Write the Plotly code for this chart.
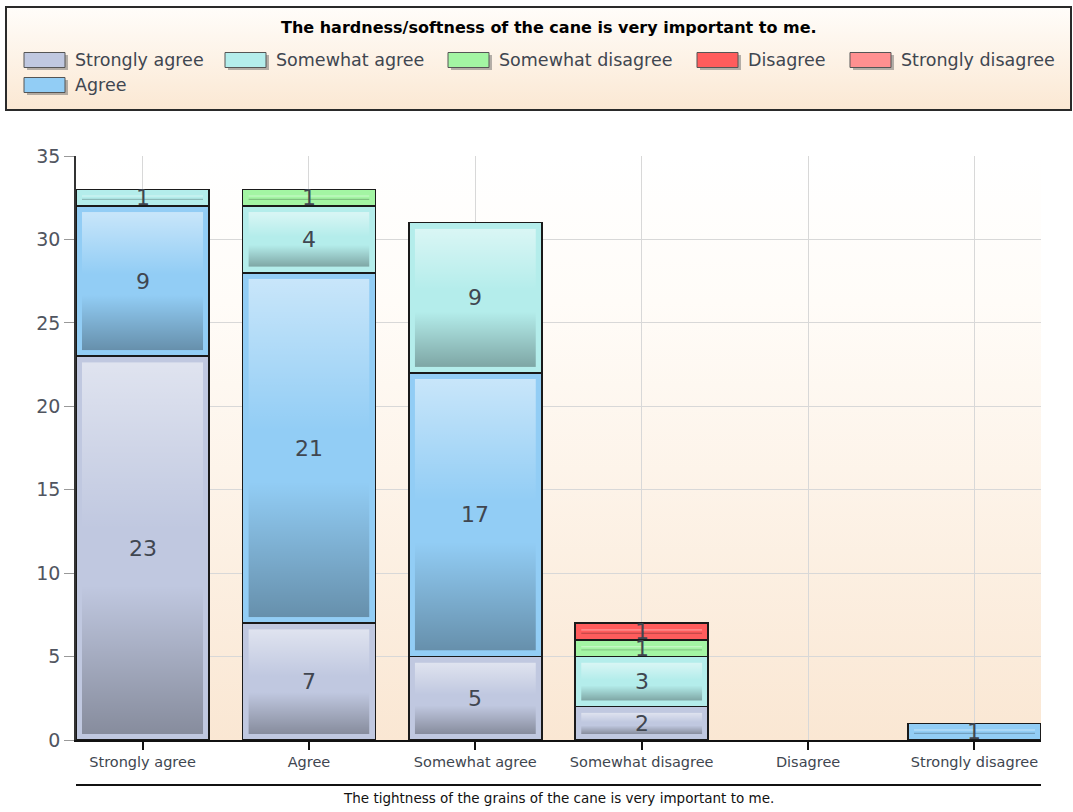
import base64
import plotly.graph_objects as go

# ---------------- data ----------------
categories = ["Strongly agree", "Agree", "Somewhat agree",
              "Somewhat disagree", "Disagree", "Strongly disagree"]
series_names = ["Strongly agree", "Agree", "Somewhat agree",
                "Somewhat disagree", "Disagree", "Strongly disagree"]
strongly_agree = [23, 7, 5, 2, 0, 0]
agree = [9, 21, 17, 0, 0, 1]
somewhat_agree = [1, 4, 9, 3, 0, 0]
somewhat_disagree = [0, 1, 0, 1, 0, 0]
disagree = [0, 0, 0, 1, 0, 0]
strongly_disagree = [0, 0, 0, 0, 0, 0]
series_values = [strongly_agree, agree, somewhat_agree,
                 somewhat_disagree, disagree, strongly_disagree]
series_colors = ["#C0C8E0", "#92CDF5", "#B4EDEB", "#A3F5A3", "#FF5C5C", "#FF9090"]
legend_order = ["Strongly agree", "Somewhat agree", "Somewhat disagree",
                "Disagree", "Strongly disagree", "Agree"]
y_ticks = [0, 5, 10, 15, 20, 25, 30, 35]
legend_title = "The hardness/softness of the cane is very important to me."
x_title = "The tightness of the grains of the cane is very important to me."

# ---------------- layout geometry (pixels) ----------------
W, H = 1073, 812
L, R, T, B = 76, 1041, 156, 740
X_RANGE = [-0.4, 5.4]
Y_RANGE = [0, 35]
BAR_W = 0.8


def px_x(p):
    return (p - L) / (R - L)


def px_y(p):
    return (B - p) / (B - T)


def svg_uri(svg):
    return "data:image/svg+xml;base64," + base64.b64encode(svg.encode()).decode()


def vgrad(stops):
    s = "".join(
        f"<stop offset='{o}' stop-color='{c}' stop-opacity='{a}'/>" for o, c, a in stops)
    return svg_uri(
        "<svg xmlns='http://www.w3.org/2000/svg' width='100' height='100' "
        "viewBox='0 0 100 100' preserveAspectRatio='none'><defs>"
        "<linearGradient id='g' x1='0' y1='0' x2='0' y2='1'>" + s +
        "</linearGradient></defs><rect width='100' height='100' fill='url(#g)'/></svg>")


bg_grad = vgrad([(0, "#FFFFFF", 1), (0.25, "#FFFCF8", 1), (1, "#FAE7D3", 1)])
legend_grad = vgrad([(0, "#FFFDFA", 1), (1, "#FBE8D3", 1)])
bar_grad = vgrad([(0, "#FFFFFF", 0.5), (0.45, "#FFFFFF", 0.0),
                  (0.6, "#000000", 0.0), (1, "#000000", 0.3)])

FONT = "DejaVu Sans"
TXT = "#404650"

fig = go.Figure()

# bars
for name, vals, col in zip(series_names, series_values, series_colors):
    fig.add_trace(go.Bar(
        name=name,
        x=list(range(len(categories))),
        y=[v if v else None for v in vals],
        width=BAR_W,
        marker=dict(color=col, line=dict(color="#1A1A1A", width=1.5)),
        showlegend=False,
        hovertemplate=name + ": %{y}<extra></extra>",
    ))

images = []
annotations = []
shapes = []

# plot background gradient
images.append(dict(source=bg_grad, xref="paper", yref="paper", x=0, y=1,
                   sizex=1, sizey=1, sizing="stretch", xanchor="left",
                   yanchor="top", layer="below"))

# bar gradient overlays and value labels
ux = (R - L) / (X_RANGE[1] - X_RANGE[0])
uy = (B - T) / (Y_RANGE[1] - Y_RANGE[0])
inset = 6
base = [0] * len(categories)
for name, vals in zip(series_names, series_values):
    for j, v in enumerate(vals):
        if not v:
            continue
        y0 = base[j] + inset / uy
        y1 = base[j] + v - inset / uy
        x0 = j - BAR_W / 2 + inset / ux
        x1 = j + BAR_W / 2 - inset / ux
        if y1 > y0:
            images.append(dict(source=bar_grad, xref="x", yref="y", x=x0, y=y1,
                               sizex=x1 - x0, sizey=y1 - y0, sizing="stretch",
                               xanchor="left", yanchor="top", layer="above"))
        annotations.append(dict(x=j, y=base[j] + v / 2, xref="x", yref="y",
                                text=str(v), showarrow=False,
                                font=dict(family=FONT, size=22, color=TXT)))
        base[j] += v

# legend box
images.append(dict(source=legend_grad, xref="paper", yref="paper",
                   x=px_x(6), y=px_y(7), sizex=px_x(1071) - px_x(6),
                   sizey=px_y(7) - px_y(110), sizing="stretch",
                   xanchor="left", yanchor="top", layer="below"))
shapes.append(dict(type="rect", xref="paper", yref="paper",
                   x0=px_x(6), x1=px_x(1071), y0=px_y(110), y1=px_y(7),
                   line=dict(color="#2A2A2A", width=2), fillcolor="rgba(0,0,0,0)"))
annotations.append(dict(x=px_x(549), y=px_y(27), xref="paper", yref="paper",
                        text="<b>" + legend_title + "</b>", showarrow=False,
                        xanchor="center", yanchor="middle",
                        font=dict(family=FONT, size=16, color="#000000")))

# legend items
item_pos = {  # swatch left x, centre y (pixels)
    "Strongly agree": (24, 60), "Somewhat agree": (225, 60),
    "Somewhat disagree": (448, 60), "Disagree": (697, 60),
    "Strongly disagree": (850, 60), "Agree": (24, 85),
}
color_of = dict(zip(series_names, series_colors))
for name in legend_order:
    lx, cy = item_pos[name]
    shapes.append(dict(type="rect", xref="paper", yref="paper",
                       x0=px_x(lx + 3), x1=px_x(lx + 44), y0=px_y(cy + 10), y1=px_y(cy - 5),
                       line=dict(width=0), fillcolor="rgba(90,90,90,0.45)"))
    shapes.append(dict(type="rect", xref="paper", yref="paper",
                       x0=px_x(lx), x1=px_x(lx + 41), y0=px_y(cy + 7.5), y1=px_y(cy - 7.5),
                       line=dict(color="#555555", width=1), fillcolor=color_of[name]))
    annotations.append(dict(x=px_x(lx + 49), y=px_y(cy), xref="paper", yref="paper",
                            text=name, showarrow=False, xanchor="left",
                            yanchor="middle",
                            font=dict(family=FONT, size=17.5, color=TXT)))

# x-axis title with rule above
shapes.append(dict(type="line", xref="paper", yref="paper",
                   x0=0, x1=1, y0=px_y(785), y1=px_y(785),
                   line=dict(color="#111111", width=2)))
annotations.append(dict(x=px_x((L + R) / 2 - 0.5), y=px_y(798), xref="paper", yref="paper",
                        text=x_title, showarrow=False, xanchor="center",
                        yanchor="middle",
                        font=dict(family=FONT, size=13.5, color="#111111")))

fig.update_layout(
    width=W, height=H,
    margin=dict(l=L, r=W - R, t=T, b=H - B, pad=0),
    barmode="stack",
    paper_bgcolor="#FFFFFF",
    plot_bgcolor="rgba(0,0,0,0)",
    showlegend=False,
    font=dict(family=FONT, color=TXT),
    images=images,
    shapes=shapes,
    annotations=annotations,
    xaxis=dict(range=X_RANGE, tickmode="array",
               tickvals=list(range(len(categories))), ticktext=categories,
               showgrid=True, gridcolor="#D8D8D8", gridwidth=1,
               showline=True, linecolor="#111111", linewidth=1.5,
               ticks="outside", ticklen=8, tickcolor="#111111", tickwidth=1.5,
               tickfont=dict(family=FONT, size=14.5, color=TXT),
               zeroline=False, fixedrange=True),
    yaxis=dict(range=Y_RANGE, tickmode="array", tickvals=y_ticks,
               showgrid=True, gridcolor="#D8D8D8", gridwidth=1,
               showline=True, linecolor="#333333", linewidth=1.5,
               ticks="outside", ticklen=10, tickcolor="#999999", tickwidth=1,
               tickfont=dict(family=FONT, size=19, color="#505560"),
               zeroline=False, fixedrange=True),
)

fig.write_html("out.html",
               config={"displayModeBar": False},
               post_script="document.body.style.margin='0px';"
                           "document.body.style.overflow='hidden';")
